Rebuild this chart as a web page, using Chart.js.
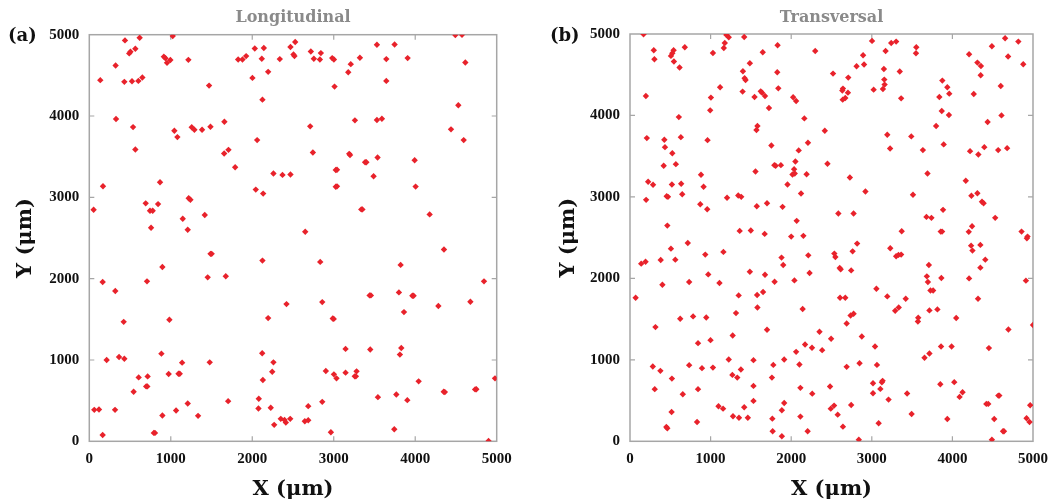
<!DOCTYPE html>
<html><head><meta charset="utf-8">
<script src="https://cdn.jsdelivr.net/npm/chart.js@4"></script>
<style>
html,body{margin:0;padding:0;background:#fff;}
#wrap{position:relative;width:1057px;height:504px;overflow:hidden;}
.panel{position:absolute;top:0;height:504px;}
</style></head><body>
<div id="wrap">
<div class="panel" style="left:0;width:540px"><canvas id="c1" width="540" height="504"></canvas></div>
<div class="panel" style="left:540px;width:517px"><canvas id="c2" width="517" height="504"></canvas></div>
</div>
<script>
// ---- data (µm) ----
const panelTitles = ["Longitudinal", "Transversal"];
const panelLetters = ["(a)", "(b)"];
const xAxisTitle = "X (μm)";
const yAxisTitle = "Y (μm)";
const axisMin = 0, axisMax = 5000, tickStep = 1000;

const longitudinalPoints = [
[438,4930],[618,4963],[1024,4984],[565,4827],[490,4770],[505,4790],[323,4621],[915,4730],[935,4710],
[995,4688],[954,4654],[1216,4691],[135,4441],[430,4420],[524,4428],[602,4432],[651,4473],[1470,4374],
[328,3963],[537,3864],[565,3588],[1044,3819],[1081,3741],[1257,3861],[1290,3831],[1384,3831],[1487,3868],
[1658,3930],[1655,3540],[1708,3584],[1790,3370],[168,3136],[868,3185],[53,2848],[692,2926],[745,2836],
[778,2836],[844,2917],[758,2626],[1220,2988],[1241,2971],[1147,2737],[1208,2601],[1417,2782],[1827,4695],
[1880,4695],[1925,4737],[2031,4831],[2142,4836],[2117,4704],[2338,4700],[2469,4848],[2002,4469],[2195,4543],
[2125,4201],[2060,3704],[2260,3293],[2371,3276],[2469,3280],[2043,3095],[2134,3046],
[2527,4910],[2506,4757],[2518,4737],[2719,4794],[2842,4774],[2756,4704],[2830,4695],[2981,4712],[3002,4695],
[3209,4638],[3178,4539],[3321,4716],[3530,4877],[3747,4880],[3645,4700],[3907,4712],[3010,4362],[3645,4432],
[4492,4996],[4574,5000],[4615,4658],[4529,4132],[4439,3836],[4595,3704],[2711,3873],[3260,3947],[3530,3951],
[3591,3967],[2744,3552],[3190,3535],[3200,3520],[3385,3432],[3400,3432],[3538,3490],[3993,3457],[3025,3337],
[3040,3340],[3489,3259],[3025,3130],[3040,3135],[4005,3132],[3338,2852],[3352,2852],[4177,2790],[2650,2577],
[1488,2305],[1502,2305],[2125,2222],[897,2144],[164,1959],[708,1967],[319,1848],[1453,2016],[1675,2029],
[2420,1687],[2195,1515],[422,1469],[983,1494],[213,1000],[365,1037],[430,1016],[885,1078],[1139,967],
[1478,971],[2122,1082],[2260,971],[2245,856],[2130,753],[606,786],[716,798],[698,675],[712,675],[544,609],
[974,827],[1095,831],[1110,831],[61,387],[119,391],[316,387],[897,317],[1065,379],[1208,465],[1335,313],
[1704,494],[2080,523],[2076,404],[2227,412],[2269,202],[2350,276],[2396,263],[2412,230],[2466,276],[164,78],
[792,103],[806,103],
[4353,2358],[2834,2206],[3821,2169],[4844,1967],[3440,1794],[3456,1794],[3800,1831],[3965,1790],[3980,1790],
[2859,1712],[4284,1663],[4677,1716],[3862,1589],[2988,1510],[3000,1505],[3145,1136],[3448,1128],[3829,1148],
[3812,1066],[2903,864],[3002,823],[3034,774],[3145,844],[3280,860],[3258,799],[3272,799],[4042,737],[4979,774],
[4350,609],[4364,605],[4735,638],[4750,640],[3542,543],[3768,576],[3903,506],[2859,485],[2687,432],[2645,247],
[2687,259],[2965,111],[3743,148],[4900,5]
];

const transversalPoints = [
[168,4997],[1196,4989],[1225,4961],[1417,4964],[1176,4890],[1164,4829],[1029,4767],[295,4801],[303,4690],
[541,4801],[525,4764],[508,4731],[680,4838],[545,4662],[615,4588],[1831,4862],[1647,4776],[1487,4641],
[2298,4792],[1401,4542],[1422,4456],[1434,4435],[1827,4530],[1840,4333],[2519,4514],[197,4239],[1118,4346],
[1004,4219],[995,4063],[1397,4293],[1545,4226],[1622,4296],[1638,4280],[1675,4239],[1724,4091],[2024,4223],
[2061,4177],[2163,3964],[2417,3813],[2208,3665],[2093,3571],[2052,3435],[2450,3407],[2036,3341],[2016,3275],
[2044,3288],[2191,3279],[1954,3152],[2122,3042],[606,3980],[1581,3870],[1569,3821],[209,3722],[426,3702],
[631,3734],[962,3697],[434,3611],[525,3537],[418,3382],[569,3402],[1754,3632],[1791,3390],[1807,3382],
[1872,3390],[1557,3312],[881,3272],[913,3124],[225,3186],[286,3149],[520,3152],[635,3161],[648,3033],
[200,2964],[455,3009],[471,3001],[1204,2989],[1343,3017],[1380,3001],[872,2910],[958,2849],[1573,2886],
[1700,2922],[1893,2878],[463,2648],[1361,2583],[1499,2587],[1671,2546],[2000,2513],[2151,2522],[2068,2706],
[3003,4915],[3241,4890],[3302,4907],[3171,4792],[3552,4837],[3548,4764],[2892,4739],[2904,4625],[2811,4604],
[2708,4465],[3150,4571],[3347,4539],[3155,4440],[3159,4379],[3138,4325],[3023,4317],[2642,4330],[2634,4305],
[2704,4280],[2671,4214],[2639,4194],[3364,4210],[3875,4428],[3937,4346],[3961,4268],[3838,4226],[3868,4054],
[3957,4005],[3798,3870],[4207,4751],[4310,4649],[4354,4608],[4351,4493],[4490,4850],[4654,4948],[4818,4907],
[4691,4723],[4879,4628],[4265,4264],[4600,4362],[4609,4001],[4437,3919],[3192,3764],[3490,3743],[3227,3595],
[3634,3575],[3892,3645],[4219,3562],[4322,3521],[4396,3611],[4568,3575],[4679,3599],[3691,3288],[2728,3239],
[2921,3066],[3511,3026],[4166,3198],[4236,3014],[4310,3045],[4367,2940],[4387,2923],[3884,2841],[2585,2796],
[2774,2796],[3678,2755],[3740,2743],[4531,2743],[4244,2640],[3371,2578],[3855,2574],[3872,2574],[4203,2571],
[4858,2574],[4932,2513],[4924,2492],
[508,2365],[717,2435],[139,2181],[193,2205],[381,2226],[562,2230],[934,2292],[1159,2325],[1880,2255],
[1901,2165],[2212,2283],[2535,2304],[2548,2263],[402,1922],[734,1956],[971,2049],[1110,1943],[1487,2082],
[1675,2045],[1794,1959],[2040,1975],[2228,2066],[70,1763],[1348,1791],[1577,1796],[1651,1833],[1581,1643],
[1315,1574],[2142,1624],[623,1504],[783,1533],[946,1520],[316,1402],[1700,1369],[844,1205],[999,1242],
[1274,1299],[2351,1344],[2495,1258],[2172,1188],[2258,1148],[2384,1119],[2061,1098],[1225,1004],[1532,996],
[1913,1004],[283,918],[377,865],[734,935],[893,898],[1029,905],[1376,881],[1270,815],[1331,782],[1778,938],
[2102,942],[1761,782],[520,770],[307,640],[844,640],[1532,680],[655,578],[2114,656],[2261,585],[2482,672],
[516,360],[1098,430],[1155,401],[1417,418],[1532,496],[1913,471],[1884,381],[2491,401],[2532,438],[1278,307],
[1352,290],[1462,290],[1766,278],[2114,303],[451,176],[463,160],[832,237],[1770,123],[1884,62],[2204,123],
[2818,2427],[2762,2332],[3229,2369],[3302,2271],[3331,2288],[3364,2292],[4232,2402],[4249,2341],[4347,2411],
[4408,2230],[4347,2132],[2602,2128],[2614,2111],[2744,2098],[3708,2165],[3683,2025],[3696,1956],[3863,2005],
[4207,2000],[4912,1972],[3057,1873],[3728,1852],[3761,1852],[2606,1763],[2671,1763],[3192,1779],[3421,1750],
[4318,1750],[2737,1545],[2774,1566],[3290,1603],[3334,1643],[3715,1607],[3814,1619],[2688,1447],[3576,1517],
[3572,1471],[4047,1513],[5000,1427],[4695,1373],[2876,1287],[3040,1164],[3859,1164],[3990,1164],[4453,1144],
[3715,1077],[3654,1025],[2688,914],[2848,959],[3064,938],[3015,713],[3134,742],[3125,725],[3106,643],
[3015,590],[3208,512],[3438,586],[3850,701],[4023,726],[4126,603],[4089,545],[4570,561],[4582,561],[4421,459],
[4445,459],[4965,443],[2744,446],[2577,327],[2642,180],[2839,20],[3085,221],[3494,336],[3937,274],[4519,274],
[4920,283],[4957,237],[4628,123],[4640,123],[4490,20]
];

// ---- styling / layout ----
const FONT = '"DejaVu Serif", "Liberation Serif", serif';
const TICK_FONT = '"Liberation Serif", "DejaVu Serif", serif';
const POINT_COLOR = '#e8222b';
const FRAME_COLOR = '#a6a6a6';

function framePlugin(title, letter, letterX) {
  return {
    id: 'frame',
    beforeDatasetsDraw(chart) {
      const {ctx, chartArea: a, scales: {x, y}} = chart;
      ctx.save();
      ctx.strokeStyle = FRAME_COLOR;
      ctx.lineWidth = 1.5;
      ctx.strokeRect(a.left, a.top, a.right - a.left, a.bottom - a.top);
      ctx.lineWidth = 1.2;
      const L = 5;
      ctx.beginPath();
      x.ticks.forEach(t => {
        if (t.value <= x.min || t.value >= x.max) return;
        const px = x.getPixelForValue(t.value);
        ctx.moveTo(px, a.top); ctx.lineTo(px, a.top + L);
        ctx.moveTo(px, a.bottom); ctx.lineTo(px, a.bottom - L);
      });
      y.ticks.forEach(t => {
        if (t.value <= y.min || t.value >= y.max) return;
        const py = y.getPixelForValue(t.value);
        ctx.moveTo(a.left, py); ctx.lineTo(a.left + L, py);
        ctx.moveTo(a.right, py); ctx.lineTo(a.right - L, py);
      });
      ctx.stroke();
      ctx.restore();
    },
    afterDraw(chart) {
      const {ctx, chartArea: a} = chart;
      ctx.save();
      ctx.textBaseline = 'middle';
      ctx.textAlign = 'center';
      ctx.fillStyle = '#8a8a8a';
      ctx.font = 'bold 16px ' + FONT;
      ctx.fillText(title, (a.left + a.right) / 2, 18);
      ctx.textAlign = 'left';
      ctx.fillStyle = '#111';
      ctx.font = 'bold 18px ' + FONT;
      ctx.fillText(letter, letterX, 36);
      ctx.restore();
    }
  };
}

function makeChart(id, points, title, letter, yWidth, padRight, padTop, yTitlePad, letterX) {
  const tickOpts = {
    stepSize: tickStep, padding: 9, color: '#111',
    font: {family: TICK_FONT, weight: 'bold', size: 15},
    callback: v => String(v)
  };
  return new Chart(document.getElementById(id), {
    type: 'scatter',
    data: {
      datasets: [{
        data: points.map(p => ({x: p[0], y: p[1]})),
        pointStyle: 'rectRot',
        pointRadius: 3.2,
        pointBackgroundColor: POINT_COLOR,
        pointBorderColor: POINT_COLOR,
        pointBorderWidth: 0
      }]
    },
    options: {
      responsive: false,
      animation: false,
      devicePixelRatio: 1,
      layout: {padding: {top: padTop, right: padRight, left: 0, bottom: 0}},
      plugins: {legend: {display: false}, tooltip: {enabled: false}, title: {display: false}},
      scales: {
        x: {
          type: 'linear', min: axisMin, max: axisMax,
          grid: {display: false, drawTicks: false},
          border: {display: false},
          ticks: Object.assign({}, tickOpts),
          title: {display: true, text: xAxisTitle, color: '#111', font: {family: FONT, weight: 'bold', size: 21}, padding: {top: 0, bottom: 1.4}},
          afterFit(s) { s.height = 62.7; }
        },
        y: {
          type: 'linear', min: axisMin, max: axisMax,
          grid: {display: false, drawTicks: false},
          border: {display: false},
          ticks: Object.assign({}, tickOpts, {padding: 10}),
          title: {display: true, text: yAxisTitle, color: '#111', font: {family: FONT, weight: 'bold', size: 21}, padding: {top: yTitlePad, bottom: 0}},
          afterFit(s) { s.width = yWidth; }
        }
      }
    },
    plugins: [framePlugin(title, letter, letterX)]
  });
}

makeChart('c1', longitudinalPoints, panelTitles[0], panelLetters[0], 89.3, 43.3, 34.7, 13.4, 8);
makeChart('c2', transversalPoints, panelTitles[1], panelLetters[1], 90, 20, 34, 15.5, 10);
</script>
</body></html>
